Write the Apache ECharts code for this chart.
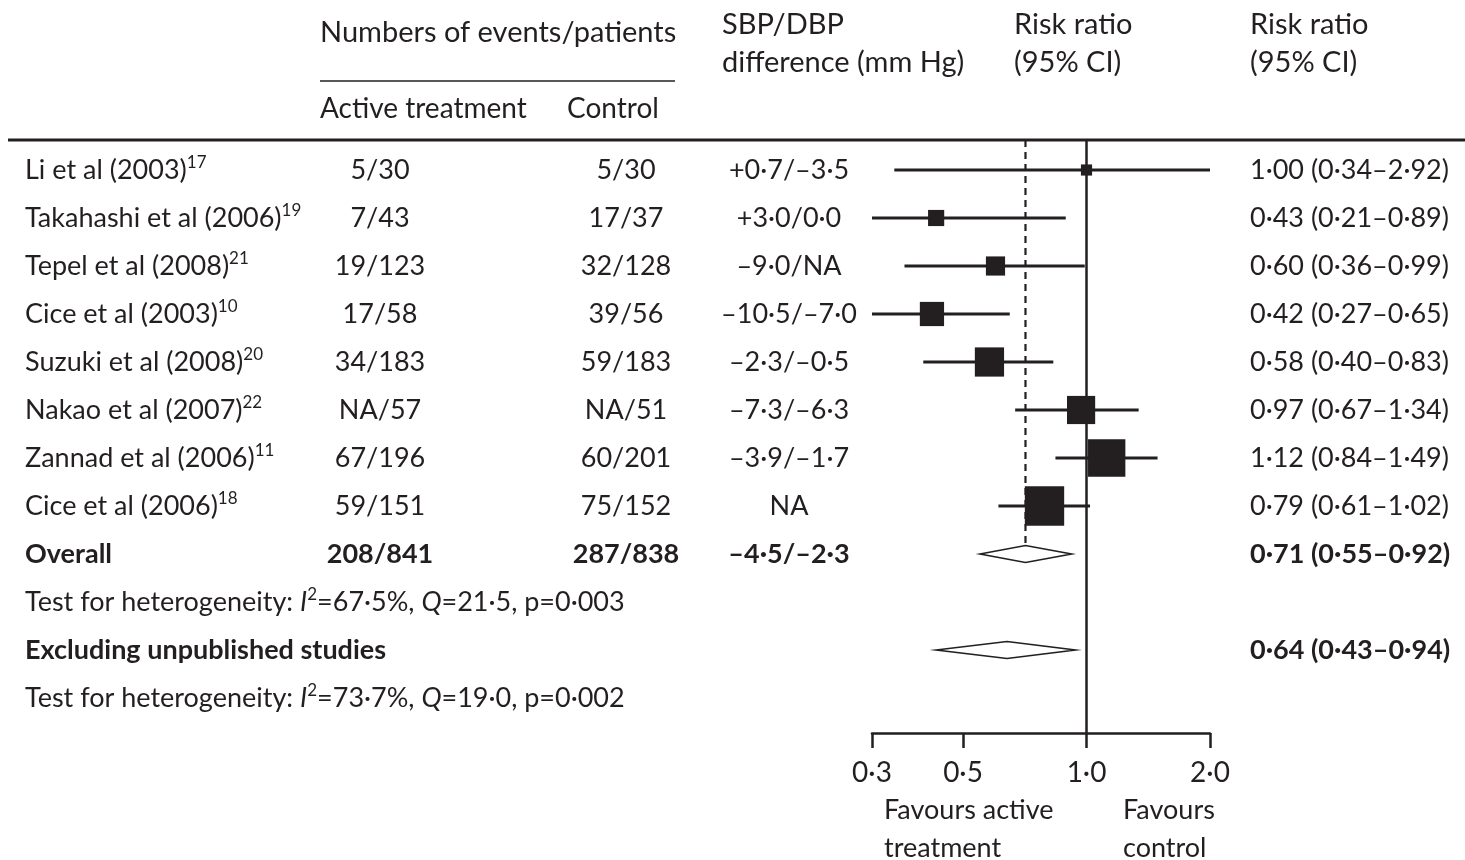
<!DOCTYPE html>
<html>
<head>
<meta charset="utf-8">
<script src="https://cdn.jsdelivr.net/npm/echarts@6/dist/echarts.min.js"></script>
<style>
  html, body { margin: 0; padding: 0; background: #ffffff; }
  #chart { width: 1465px; height: 860px; }
</style>
</head>
<body>
<div id="chart"></div>
<script>
// ---- Study data ----
const studies = ['Li et al (2003)', 'Takahashi et al (2006)', 'Tepel et al (2008)', 'Cice et al (2003)',
                 'Suzuki et al (2008)', 'Nakao et al (2007)', 'Zannad et al (2006)', 'Cice et al (2006)'];
const refs = ['17', '19', '21', '10', '20', '22', '11', '18'];
const activeEvents = ['5/30', '7/43', '19/123', '17/58', '34/183', 'NA/57', '67/196', '59/151'];
const controlEvents = ['5/30', '17/37', '32/128', '39/56', '59/183', 'NA/51', '60/201', '75/152'];
const bpDiff = ['+0·7/–3·5', '+3·0/0·0', '–9·0/NA', '–10·5/–7·0', '–2·3/–0·5', '–7·3/–6·3', '–3·9/–1·7', 'NA'];
const rr = [1.00, 0.43, 0.60, 0.42, 0.58, 0.97, 1.12, 0.79];
const rrLow = [0.34, 0.21, 0.36, 0.27, 0.40, 0.67, 0.84, 0.61];
const rrHigh = [2.92, 0.89, 0.99, 0.65, 0.83, 1.34, 1.49, 1.02];
const studyWeight = [2.1, 4.4, 6.2, 9.9, 14.4, 13.4, 23.5, 26.1];

// ---- Pooled estimates ----
const pooledLabels = ['Overall', 'Excluding unpublished studies'];
const pooledRR = [0.71, 0.64];
const pooledLow = [0.55, 0.43];
const pooledHigh = [0.92, 0.94];
const overallActive = '208/841';
const overallControl = '287/838';
const overallBp = '–4·5/–2·3';
const hetI2 = ['67·5%', '73·7%'];
const hetQ = ['21·5', '19·0'];
const hetP = ['0·003', '0·002'];

// ---- Axis ----
const xTicks = [0.3, 0.5, 1.0, 2.0];
const xMin = 0.3, xMax = 2.0;

// ---- Layout ----
const W = 1465, H = 860;
const FONT = 'Lato, "Open Sans", sans-serif';
const INK = '#231f20';
const FS = 27;          // body text size
const FS_HEAD = 29;     // column heading size
const plotLeft = 872, plotRight = 1210;
const gridTop = 140, axisY = 733;
const firstRowY = 170, rowStep = 48;
const yMin = (gridTop - firstRowY) / rowStep;
const yMax = (axisY - firstRowY) / rowStep;
const markerScale = 7.7;   // side of a square = markerScale * sqrt(weight)
const diamondHalf = 8.5;

const fmt = (v, d) => v.toFixed(d).replace('.', '·');
const ciText = (m, l, h) => `${fmt(m, 2)} (${fmt(l, 2)}–${fmt(h, 2)})`;

// Row indices
const ROW_OVERALL = studies.length;
const ROW_HET1 = ROW_OVERALL + 1;
const ROW_EXCL = ROW_OVERALL + 2;
const ROW_HET2 = ROW_OVERALL + 3;

// Column anchors
const colStudy = 25, colActive = 380, colControl = 626, colBp = 789, colRR = 1250;

// ---- Table cells ----
const cells = [];
studies.forEach((name, i) => {
  cells.push({ row: i, x: colStudy, align: 'left', text: `{n|${name}}{s|${refs[i]}}` });
  cells.push({ row: i, x: colActive, align: 'center', text: `{n|${activeEvents[i]}}` });
  cells.push({ row: i, x: colControl, align: 'center', text: `{n|${controlEvents[i]}}` });
  cells.push({ row: i, x: colBp, align: 'center', text: `{n|${bpDiff[i]}}` });
  cells.push({ row: i, x: colRR, align: 'left', text: `{n|${ciText(rr[i], rrLow[i], rrHigh[i])}}` });
});
cells.push({ row: ROW_OVERALL, x: colStudy, align: 'left', text: `{b|${pooledLabels[0]}}` });
cells.push({ row: ROW_OVERALL, x: colActive, align: 'center', text: `{b|${overallActive}}` });
cells.push({ row: ROW_OVERALL, x: colControl, align: 'center', text: `{b|${overallControl}}` });
cells.push({ row: ROW_OVERALL, x: colBp, align: 'center', text: `{b|${overallBp}}` });
cells.push({ row: ROW_OVERALL, x: colRR, align: 'left', text: `{b|${ciText(pooledRR[0], pooledLow[0], pooledHigh[0])}}` });
const hetText = k => `{n|Test for heterogeneity: }{it|I}{s|2}{n|=${hetI2[k]}, }{it|Q}{n|=${hetQ[k]}, p=${hetP[k]}}`;
cells.push({ row: ROW_HET1, x: colStudy, align: 'left', text: hetText(0) });
cells.push({ row: ROW_EXCL, x: colStudy, align: 'left', text: `{b|${pooledLabels[1]}}` });
cells.push({ row: ROW_EXCL, x: colRR, align: 'left', text: `{b|${ciText(pooledRR[1], pooledLow[1], pooledHigh[1])}}` });
cells.push({ row: ROW_HET2, x: colStudy, align: 'left', text: hetText(1) });

const rich = {
  n: { fontSize: FS, fontFamily: FONT, fill: INK, lineHeight: 32 },
  b: { fontSize: FS, fontFamily: FONT, fill: INK, lineHeight: 32, fontWeight: 'bold' },
  it: { fontSize: FS, fontFamily: FONT, fill: INK, lineHeight: 32, fontStyle: 'italic' },
  s: { fontSize: 17, fontFamily: FONT, fill: INK, lineHeight: 16, verticalAlign: 'top' }
};

function renderCell(params, api) {
  const c = cells[params.dataIndex];
  const y = api.coord([1, c.row])[1];
  return {
    type: 'text', x: c.x, y: y,
    style: { text: c.text, rich: rich, align: c.align, verticalAlign: 'middle',
             fill: INK, fontSize: FS, fontFamily: FONT }
  };
}

// Study CI whiskers and weighted squares
function renderStudy(params, api) {
  const i = params.dataIndex;
  const lo = api.coord([Math.max(rrLow[i], xMin), i]);
  const hi = api.coord([Math.min(rrHigh[i], xMax), i]);
  const c = api.coord([rr[i], i]);
  const s = markerScale * Math.sqrt(studyWeight[i]);
  return {
    type: 'group',
    children: [
      { type: 'line', shape: { x1: lo[0], y1: lo[1], x2: hi[0], y2: hi[1] },
        style: { stroke: INK, lineWidth: 2.8 } },
      { type: 'rect', shape: { x: c[0] - s / 2, y: c[1] - s / 2, width: s, height: s },
        style: { fill: INK } }
    ]
  };
}

// Pooled-estimate diamonds
function renderPooled(params, api) {
  const k = params.dataIndex;
  const row = k === 0 ? ROW_OVERALL : ROW_EXCL;
  const lo = api.coord([pooledLow[k], row]);
  const hi = api.coord([pooledHigh[k], row]);
  const c = api.coord([pooledRR[k], row]);
  return {
    type: 'polygon',
    shape: { points: [[lo[0], lo[1]], [c[0], c[1] - diamondHalf], [hi[0], hi[1]], [c[0], c[1] + diamondHalf]] },
    style: { fill: '#ffffff', stroke: INK, lineWidth: 1.6 }
  };
}

// Reference lines: no effect (solid) and overall estimate (dashed)
function renderRefLines(params, api) {
  const top1 = api.coord([1, yMin]);
  const bot1 = api.coord([1, yMax]);
  const topO = api.coord([pooledRR[0], yMin]);
  const botO = api.coord([pooledRR[0], ROW_OVERALL]);
  return {
    type: 'group',
    children: [
      { type: 'line', shape: { x1: top1[0], y1: top1[1], x2: bot1[0], y2: bot1[1] },
        style: { stroke: INK, lineWidth: 2.5 } },
      { type: 'line', shape: { x1: topO[0], y1: topO[1], x2: botO[0], y2: botO[1] - diamondHalf },
        style: { stroke: INK, lineWidth: 2.2, lineDash: [7, 5] } }
    ]
  };
}

const textStyle = (extra) => Object.assign({ fontSize: FS, fontFamily: FONT, fill: INK,
  verticalAlign: 'middle', align: 'left' }, extra || {});

const option = {
  backgroundColor: '#ffffff',
  animation: false,
  grid: { left: plotLeft, right: W - plotRight, top: gridTop, bottom: H - axisY, containLabel: false },
  xAxis: {
    type: 'log', logBase: 10, min: xMin, max: xMax,
    axisLine: { show: true, onZero: false, lineStyle: { color: INK, width: 2.5 } },
    axisTick: { show: true, length: 15, customValues: xTicks, lineStyle: { color: INK, width: 2.5 } },
    minorTick: { show: false },
    axisLabel: { customValues: xTicks, formatter: v => fmt(v, 1), color: INK,
                 fontSize: 28, fontFamily: FONT, margin: 26, showMinLabel: true, showMaxLabel: true },
    splitLine: { show: false }
  },
  yAxis: { type: 'value', inverse: true, min: yMin, max: yMax, show: false, splitLine: { show: false } },
  series: [
    { type: 'custom', renderItem: renderRefLines, data: [[1, 0]], clip: false, silent: true, z: 2 },
    { type: 'custom', renderItem: renderStudy, data: rr.map((v, i) => [v, i]), clip: false, silent: true, z: 3 },
    { type: 'custom', renderItem: renderPooled, data: pooledRR.map((v, k) => [v, k]), clip: false, silent: true, z: 4 },
    { type: 'custom', renderItem: renderCell, data: cells.map(c => [1, c.row]), clip: false, silent: true, z: 5 }
  ],
  graphic: [
    { type: 'line', shape: { x1: 8, y1: gridTop, x2: W, y2: gridTop }, style: { stroke: INK, lineWidth: 3 } },
    { type: 'line', shape: { x1: 320, y1: 81, x2: 675, y2: 81 }, style: { stroke: INK, lineWidth: 1.5 } },
    { type: 'text', x: 320, y: 33, style: textStyle({ text: 'Numbers of events/patients', fontSize: FS_HEAD }) },
    { type: 'text', x: 320, y: 109, style: textStyle({ text: 'Active treatment', fontSize: 28 }) },
    { type: 'text', x: 567, y: 109, style: textStyle({ text: 'Control', fontSize: 28 }) },
    { type: 'text', x: 722, y: 25, style: textStyle({ text: 'SBP/DBP', fontSize: FS_HEAD }) },
    { type: 'text', x: 722, y: 63, style: textStyle({ text: 'difference (mm Hg)', fontSize: FS_HEAD }) },
    { type: 'text', x: 1014, y: 25, style: textStyle({ text: 'Risk ratio', fontSize: FS_HEAD }) },
    { type: 'text', x: 1014, y: 63, style: textStyle({ text: '(95% CI)', fontSize: FS_HEAD }) },
    { type: 'text', x: 1250, y: 25, style: textStyle({ text: 'Risk ratio', fontSize: FS_HEAD }) },
    { type: 'text', x: 1250, y: 63, style: textStyle({ text: '(95% CI)', fontSize: FS_HEAD }) },
    { type: 'text', x: 884, y: 810, style: textStyle({ text: 'Favours active' }) },
    { type: 'text', x: 884, y: 848, style: textStyle({ text: 'treatment' }) },
    { type: 'text', x: 1123, y: 810, style: textStyle({ text: 'Favours' }) },
    { type: 'text', x: 1123, y: 848, style: textStyle({ text: 'control' }) }
  ]
};

const chart = echarts.init(document.getElementById('chart'), null, { renderer: 'canvas', width: W, height: H });
chart.setOption(option);
</script>
</body>
</html>
